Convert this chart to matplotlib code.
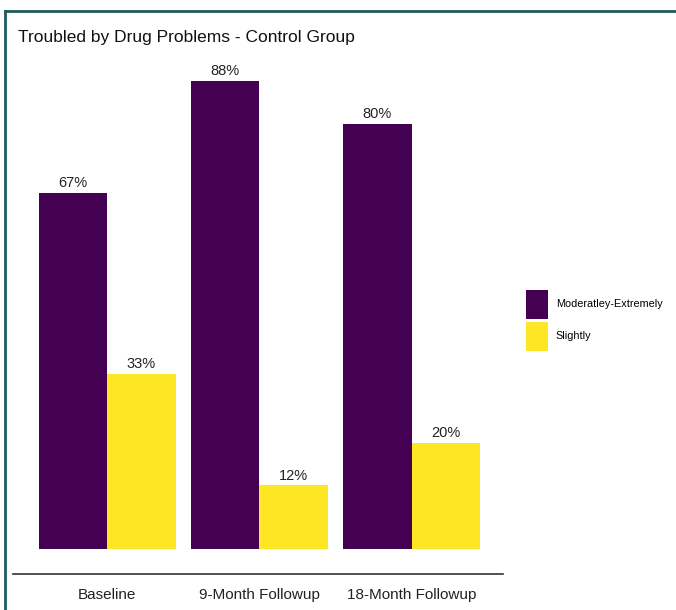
import matplotlib
matplotlib.use("Agg")
import matplotlib.pyplot as plt
from matplotlib.lines import Line2D
from matplotlib.patches import Patch
import numpy as np

plt.rcParams['font.family'] = ['Liberation Sans', 'DejaVu Sans']

categories = ["Baseline", "9-Month Followup", "18-Month Followup"]
series_names = ["Moderatley-Extremely", "Slightly"]
moderately_extremely = [67, 88, 80]
slightly = [33, 12, 20]
colors = ["#440154", "#FDE725"]

fig = plt.figure(figsize=(6.76, 6.10), dpi=100)
ax = fig.add_axes([0.019, 0.059, 0.725, 0.843])

x = np.arange(1, len(categories) + 1)
w = 0.45
for vals, off, col in [(moderately_extremely, -w / 2, colors[0]), (slightly, w / 2, colors[1])]:
    bars = ax.bar(x + off, vals, width=w, color=col, edgecolor='none')
    for b, v in zip(bars, vals):
        ax.text(b.get_x() + b.get_width() / 2, v + 0.5, f"{v}%", ha='center', va='bottom',
                fontsize=10.5, color='#222222')

ax.set_xlim(0.38, 3.6)
ax.set_ylim(-4.7, 92)
ax.set_xticks(x)
ax.set_xticklabels(categories, fontsize=11, color='#222222')
ax.tick_params(axis='x', length=0, pad=10)
ax.set_yticks([])
for s in ['top', 'right', 'left']:
    ax.spines[s].set_visible(False)
ax.spines['bottom'].set_color('#333333')
ax.spines['bottom'].set_linewidth(1.2)

fig.text(0.027, 0.938, "Troubled by Drug Problems - Control Group", fontsize=12.5,
         color='#111111', ha='left', va='center')

handles = [Patch(facecolor=c, edgecolor='none', label=n) for c, n in zip(colors, series_names)]
fig.legend(handles=handles, loc='center left', bbox_to_anchor=(0.778, 0.475), frameon=False,
           fontsize=7.8, handlelength=2.0, handleheight=3.75, handletextpad=0.75,
           labelspacing=0.28, borderaxespad=0, borderpad=0)

# frame lines along the top and left edges
fig.add_artist(Line2D([5 / 676, 1.0], [1 - 11 / 610, 1 - 11 / 610], transform=fig.transFigure,
                      color='#1f5a5c', linewidth=2))
fig.add_artist(Line2D([5 / 676, 5 / 676], [0, 1 - 11 / 610], transform=fig.transFigure,
                      color='#1f5a5c', linewidth=2))

fig.savefig("out.png", dpi=100)
